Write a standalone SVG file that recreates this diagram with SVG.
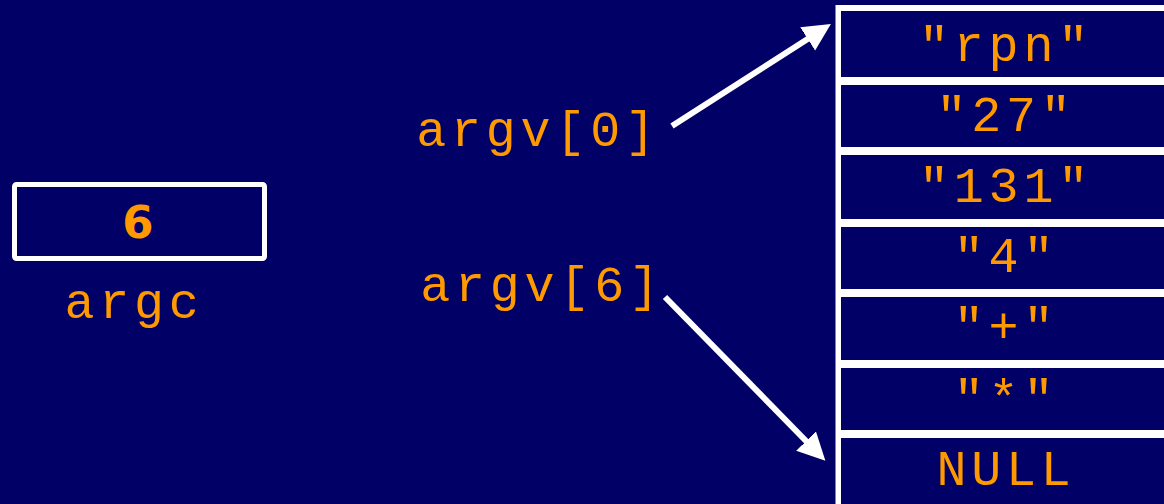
<svg xmlns="http://www.w3.org/2000/svg" width="1164" height="504" viewBox="0 0 1164 504">
  <style>
    .cell { fill: #000066; stroke: #ffffff; stroke-width: 4; }
    .mono { font-family: "Liberation Mono", "Courier New", monospace; font-size: 50px; letter-spacing: 4.8px; fill: #ff9900; }
    .val { text-anchor: middle; }
    .num { font-family: "DejaVu Sans", "Liberation Sans", sans-serif; font-weight: bold; font-size: 45px; fill: #ff9900; text-anchor: middle; }
    .conn { stroke: #ffffff; stroke-width: 6; fill: none; }
  </style>
  <defs>
    <marker id="head" viewBox="0 0 10 10" refX="1" refY="5" markerWidth="4.6" markerHeight="4.7" markerUnits="strokeWidth" orient="auto">
      <path d="M0,0 L10,5 L0,10 z" fill="#ffffff"/>
    </marker>
  </defs>

  <rect width="1164" height="504" fill="#000066"/>

  <!-- argc variable -->
  <g id="argc">
    <rect x="14.5" y="184.5" width="250" height="74" rx="2" fill="#000066" stroke="#ffffff" stroke-width="5"/>
    <text class="num" x="138" y="238">6</text>
    <text class="mono val" x="134" y="318">argc</text>
  </g>

  <!-- pointer labels -->
  <g id="argv0">
    <text class="mono val" x="538" y="146">argv[0]</text>
  </g>
  <g id="argv6">
    <text class="mono val" x="542" y="301">argv[6]</text>
  </g>

  <!-- argument array -->
  <g id="array">
    <rect x="838.5" y="8" width="340" height="510" fill="none" stroke="#ffffff" stroke-width="6"/>
    <g id="cell0">
      <rect class="cell" x="839" y="9" width="340" height="70"/>
      <text class="mono val" x="1006" y="61">"rpn"</text>
    </g>
    <g id="cell1">
      <rect class="cell" x="839" y="83" width="340" height="66"/>
      <text class="mono val" x="1006" y="131">"27"</text>
    </g>
    <g id="cell2">
      <rect class="cell" x="839" y="153" width="340" height="68"/>
      <text class="mono val" x="1006" y="202">"131"</text>
    </g>
    <g id="cell3">
      <rect class="cell" x="839" y="225" width="340" height="66"/>
      <text class="mono val" x="1006" y="272">"4"</text>
    </g>
    <g id="cell4">
      <rect class="cell" x="839" y="295" width="340" height="67"/>
      <text class="mono val" x="1006" y="342">"+"</text>
    </g>
    <g id="cell5">
      <rect class="cell" x="839" y="366" width="340" height="66"/>
      <text class="mono val" x="1006" y="414">"*"</text>
    </g>
    <g id="cell6">
      <rect class="cell" x="839" y="436" width="340" height="84"/>
      <text class="mono val" x="1006" y="485">NULL</text>
    </g>
  </g>

  <!-- pointers into the array -->
  <g id="connectors">
    <line class="conn" x1="672" y1="126" x2="810" y2="37.5" marker-end="url(#head)"/>
    <line class="conn" x1="665" y1="297" x2="808" y2="443" marker-end="url(#head)"/>
  </g>
</svg>
